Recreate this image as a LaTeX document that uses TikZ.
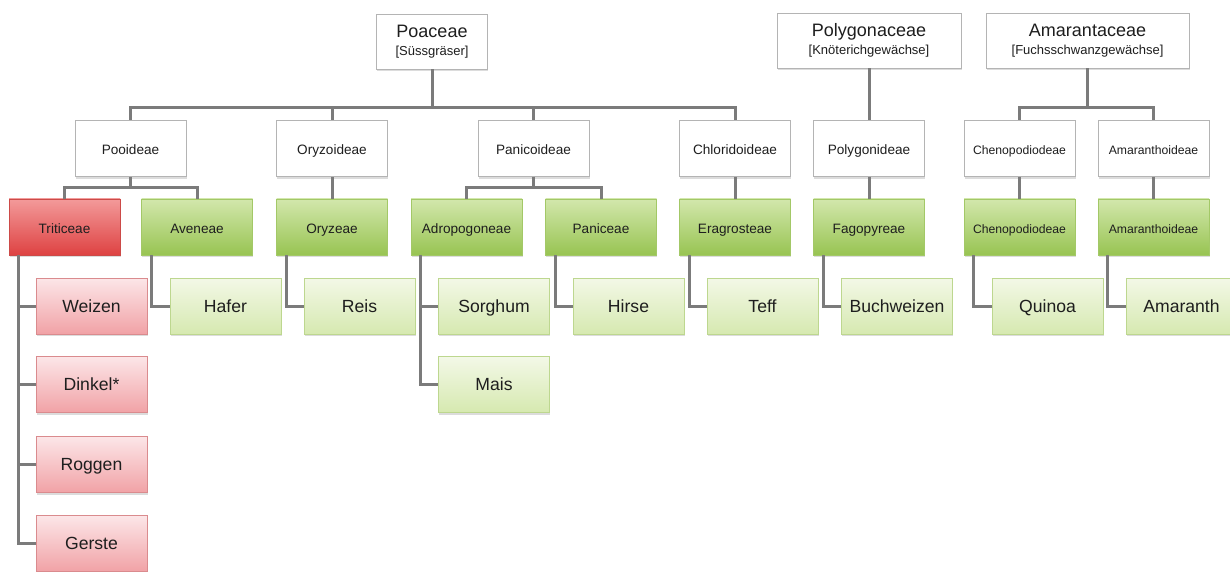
\documentclass[tikz,border=0pt]{standalone}
\usepackage{fontspec}
\setmainfont{Liberation Sans}
\usetikzlibrary{shadows}

\definecolor{linegray}{HTML}{7B7B7B}
\definecolor{boxgray}{HTML}{B4B4B4}
\definecolor{textdark}{HTML}{1E1E1E}
\definecolor{tribetop}{HTML}{D2E7AC}
\definecolor{tribebot}{HTML}{98C452}
\definecolor{tribeline}{HTML}{A3C867}
\definecolor{croptop}{HTML}{F3F8E7}
\definecolor{cropbot}{HTML}{D6E9B0}
\definecolor{cropline}{HTML}{BDD78F}
\definecolor{redtop}{HTML}{F39A9A}
\definecolor{redbot}{HTML}{DE4242}
\definecolor{redline}{HTML}{CC4A48}
\definecolor{redcroptop}{HTML}{FCE6E8}
\definecolor{redcropbot}{HTML}{F1A2A6}
\definecolor{redcropline}{HTML}{DA8B8E}

\begin{document}
\begin{tikzpicture}[x=0.5pt, y=-0.5pt,
    box/.style={draw=boxgray, fill=white, minimum width=55.5pt, minimum height=28pt,
        inner sep=1pt, align=center, text=textdark,
        drop shadow={shadow xshift=0.3pt, shadow yshift=-1.2pt, opacity=0.28}},
    family/.style={box, minimum height=27.5pt, font=\fontsize{9}{9}\selectfont},
    oneline/.style={text height=1.45ex, text depth=0.3ex},
    sub/.style={box, oneline, font=\fontsize{6.8}{8}\selectfont},
    tribe/.style={box, oneline, draw=tribeline, top color=tribetop, bottom color=tribebot,
        font=\fontsize{6.8}{8}\selectfont},
    redtribe/.style={tribe, draw=redline, top color=redtop, bottom color=redbot},
    crop/.style={box, oneline, draw=cropline, top color=croptop, bottom color=cropbot,
        font=\fontsize{8.8}{10}\selectfont},
    redcrop/.style={crop, draw=redcropline, top color=redcroptop, bottom color=redcropbot},
    link/.style={draw=linegray, line width=1.5pt}]

    \useasboundingbox (0,0) rectangle (1230,572);

    \coordinate (busA) at (0,108);
    \coordinate (busB) at (0,188);

    \node[family] (poaceae) at (432,41.5) {Poaceae\\{\fontsize{6.5}{7}\selectfont [Süssgräser]}};
    \node[family, minimum width=92pt] (polygonaceae) at (869,40.5)
        {Polygonaceae\\{\fontsize{6.5}{7}\selectfont [Knöterichgewächse]}};
    \node[family, minimum width=101.5pt] (amarantaceae) at (1087.5,40.5)
        {Amarantaceae\\{\fontsize{6.5}{7}\selectfont [Fuchsschwanzgewächse]}};

    \node[sub] (pooideae) at (130.5,148.5) {Pooideae};
    \node[sub] (oryzoideae) at (332,148.5) {Oryzoideae};
    \node[sub] (panicoideae) at (533.5,148.5) {Panicoideae};
    \node[sub] (chloridoideae) at (735,148.5) {Chloridoideae};
    \node[sub] (polygonideae) at (869,148.5) {Polygonideae};
    \node[sub, font=\fontsize{6.1}{7}\selectfont] (chenopodiodeae) at (1019.5,148.5) {Chenopodiodeae};
    \node[sub, font=\fontsize{6.1}{7}\selectfont] (amaranthoideae) at (1153.5,148.5) {Amaranthoideae};

    \node[redtribe] (triticeae) at (64.5,227) {Triticeae};
    \node[tribe] (aveneae) at (197,227) {Aveneae};
    \node[tribe] (oryzeae) at (332,227) {Oryzeae};
    \node[tribe] (adropogoneae) at (466.5,227) {Adropogoneae};
    \node[tribe] (paniceae) at (601,227) {Paniceae};
    \node[tribe] (eragrosteae) at (735,227) {Eragrosteae};
    \node[tribe] (fagopyreae) at (869,227) {Fagopyreae};
    \node[tribe, font=\fontsize{6.1}{7}\selectfont] (chenopodiodeaeT) at (1019.5,227) {Chenopodiodeae};
    \node[tribe, font=\fontsize{6.1}{7}\selectfont] (amaranthoideaeT) at (1153.5,227) {Amaranthoideae};

    \node[redcrop] (weizen) at (91.5,306) {Weizen};
    \node[redcrop] (dinkel) at (91.5,384.5) {Dinkel*};
    \node[redcrop] (roggen) at (91.5,464.5) {Roggen};
    \node[redcrop] (gerste) at (91.5,543.5) {Gerste};
    \node[crop] (hafer) at (225.5,306) {Hafer};
    \node[crop] (reis) at (359.5,306) {Reis};
    \node[crop] (sorghum) at (494,306) {Sorghum};
    \node[crop] (mais) at (494,384.5) {Mais};
    \node[crop] (hirse) at (628.5,306) {Hirse};
    \node[crop] (teff) at (762.5,306) {Teff};
    \node[crop] (buchweizen) at (897,306) {Buchweizen};
    \node[crop] (quinoa) at (1047.5,306) {Quinoa};
    \node[crop] (amaranth) at (1181.5,306) {Amaranth};

    \foreach \c in {pooideae,oryzoideae,panicoideae,chloridoideae}
        \draw[link] (poaceae.south) -- (poaceae.south |- busA) -| (\c.north);
    \draw[link] (polygonaceae) -- (polygonideae);
    \foreach \c in {chenopodiodeae,amaranthoideae}
        \draw[link] (amarantaceae.south) -- (amarantaceae.south |- busA) -| (\c.north);

    \foreach \c in {triticeae,aveneae}
        \draw[link] (pooideae.south) -- (pooideae.south |- busB) -| (\c.north);
    \foreach \c in {adropogoneae,paniceae}
        \draw[link] (panicoideae.south) -- (panicoideae.south |- busB) -| (\c.north);
    \draw[link] (oryzoideae) -- (oryzeae);
    \draw[link] (chloridoideae) -- (eragrosteae);
    \draw[link] (polygonideae) -- (fagopyreae);
    \draw[link] (chenopodiodeae) -- (chenopodiodeaeT);
    \draw[link] (amaranthoideae) -- (amaranthoideaeT);

    \foreach \c in {weizen,dinkel,roggen,gerste}
        \draw[link] ([xshift=4.75pt]triticeae.south west) |- (\c.west);
    \foreach \c in {sorghum,mais}
        \draw[link] ([xshift=5pt]adropogoneae.south west) |- (\c.west);
    \draw[link] ([xshift=5pt]aveneae.south west) |- (hafer.west);
    \draw[link] ([xshift=5pt]oryzeae.south west) |- (reis.west);
    \draw[link] ([xshift=5pt]paniceae.south west) |- (hirse.west);
    \draw[link] ([xshift=5pt]eragrosteae.south west) |- (teff.west);
    \draw[link] ([xshift=5pt]fagopyreae.south west) |- (buchweizen.west);
    \draw[link] ([xshift=5pt]chenopodiodeaeT.south west) |- (quinoa.west);
    \draw[link] ([xshift=5pt]amaranthoideaeT.south west) |- (amaranth.west);
\end{tikzpicture}
\end{document}
